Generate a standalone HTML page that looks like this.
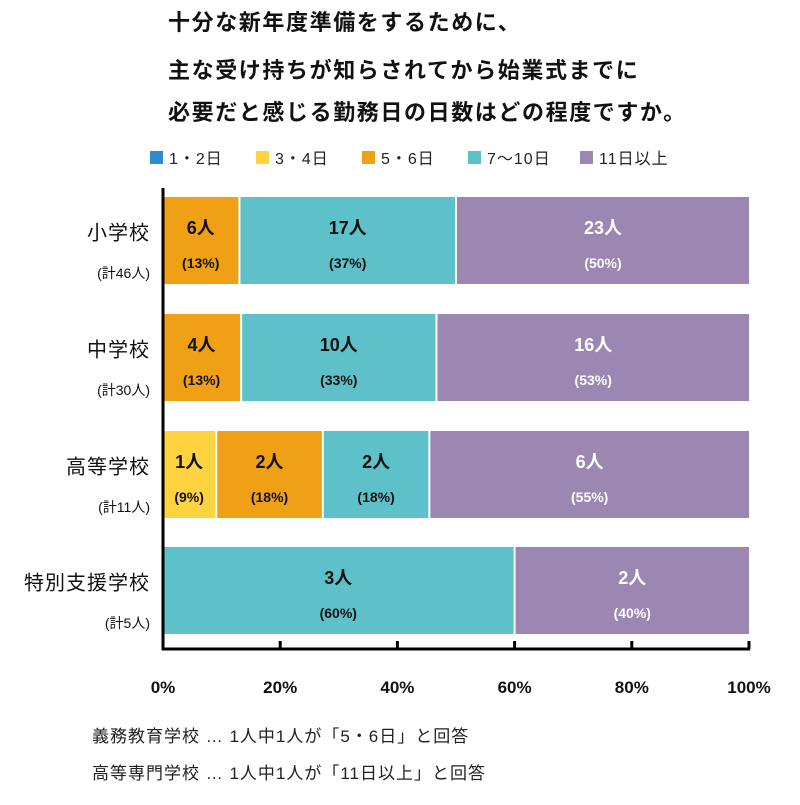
<!DOCTYPE html>
<html><head><meta charset="utf-8"><style>
body{margin:0;background:#fff;}
svg text{font-family:"Liberation Sans","Noto Sans CJK JP",sans-serif;}
</style></head><body>
<svg width="800" height="800" viewBox="0 0 800 800">
<g font-size="22" font-weight="bold" fill="#111" letter-spacing="1.6">
<text x="168" y="30">十分な新年度準備をするために、</text>
<text x="168" y="78">主な受け持ちが知らされてから始業式までに</text>
<text x="168" y="120">必要だと感じる勤務日の日数はどの程度ですか。</text>
</g>
<g id="legend"></g>
<g id="bars"></g>
<g id="axis"></g>
<g font-size="17" fill="#222" letter-spacing="1">
<text x="92" y="742">義務教育学校 … 1人中1人が「5・6日」と回答</text>
<text x="92" y="779">高等専門学校 … 1人中1人が「11日以上」と回答</text>
</g>
</svg>
<script>
const categories=["小学校","中学校","高等学校","特別支援学校"];
const totals=["(計46人)","(計30人)","(計11人)","(計5人)"];
const seriesNames=["1・2日","3・4日","5・6日","7〜10日","11日以上"];
const s12=[0,0,0,0];
const s34=[0,0,1,0];
const s56=[6,4,2,0];
const s710=[17,10,2,3];
const s11=[23,16,6,2];
const xTicks=[0,20,40,60,80,100];
const colors=["#2E8BD0","#FFD340","#EFA015","#5EC1C9","#9C87B3"];
const ns="http://www.w3.org/2000/svg";
function mk(t,a,p){const e=document.createElementNS(ns,t);for(const k in a)e.setAttribute(k,a[k]);p.appendChild(e);return e;}
const x0=163,x1=749;
const xs=v=>x0+(x1-x0)*v/100;
const rowTop=[197,314,431,547],bh=87;
const series=[s12,s34,s56,s710,s11];
const legend=document.getElementById('legend');
const lx=[150,256,362,468,580];
seriesNames.forEach((n,i)=>{
 const g=mk('g',{},legend);
 
 
 mk('rect',{x:lx[i],y:151,width:13,height:13,fill:colors[i]},g);
 const t=mk('text',{x:lx[i]+19,y:164,'font-size':16,fill:'#222','letter-spacing':1},g);t.textContent=n;
});
const bars=document.getElementById('bars');
categories.forEach((c,r)=>{
 const y=rowTop[r];
 const tot=series.reduce((s,a)=>s+a[r],0);
 const lab=mk('text',{x:150,y:y+bh/2-1,'font-size':20,'text-anchor':'end',fill:'#111','letter-spacing':1},bars);
 
 
 lab.textContent=c;
 const tl=mk('text',{x:150,y:y+bh-6,'font-size':14,'text-anchor':'end',fill:'#111'},bars);
 
 
 tl.textContent=totals[r];
 let cum=0;
 series.forEach((a,i)=>{
  const v=a[r];if(!v)return;
  const p0=cum/tot*100,p1=(cum+v)/tot*100;cum+=v;
  const xa=xs(p0)+(p0>0?1:0),xb=xs(p1)-(p1<100?1:0);
  const rc=mk('rect',{x:xa,y:y,width:xb-xa,height:bh,fill:colors[i]},bars);
  
  
  const cx=(xa+xb)/2,fc=i==4?'#fff':'#111';
  const t1=mk('text',{x:cx,y:y+37,'font-size':18,'font-weight':'bold','text-anchor':'middle',fill:fc},bars);
  
  
  t1.textContent=v+'人';
  const t2=mk('text',{x:cx,y:y+71,'font-size':14,'font-weight':'bold','text-anchor':'middle',fill:fc},bars);
  
  
  t2.textContent='('+Math.round(v/tot*100)+'%)';
 });
});
const ax=document.getElementById('axis');
mk('line',{x1:x0,y1:188,x2:x0,y2:650,stroke:'#000','stroke-width':3},ax);
mk('line',{x1:x0-1,y1:649,x2:x1+1,y2:649,stroke:'#000','stroke-width':3},ax);
xTicks.forEach(v=>{
 mk('line',{x1:xs(v),y1:641,x2:xs(v),y2:649,stroke:'#000','stroke-width':3},ax);
 const t=mk('text',{x:xs(v),y:693,'font-size':17,'font-weight':'bold','text-anchor':'middle',fill:'#111'},ax);
 
 
 t.textContent=v+'%';
});
</script>
</body></html>
